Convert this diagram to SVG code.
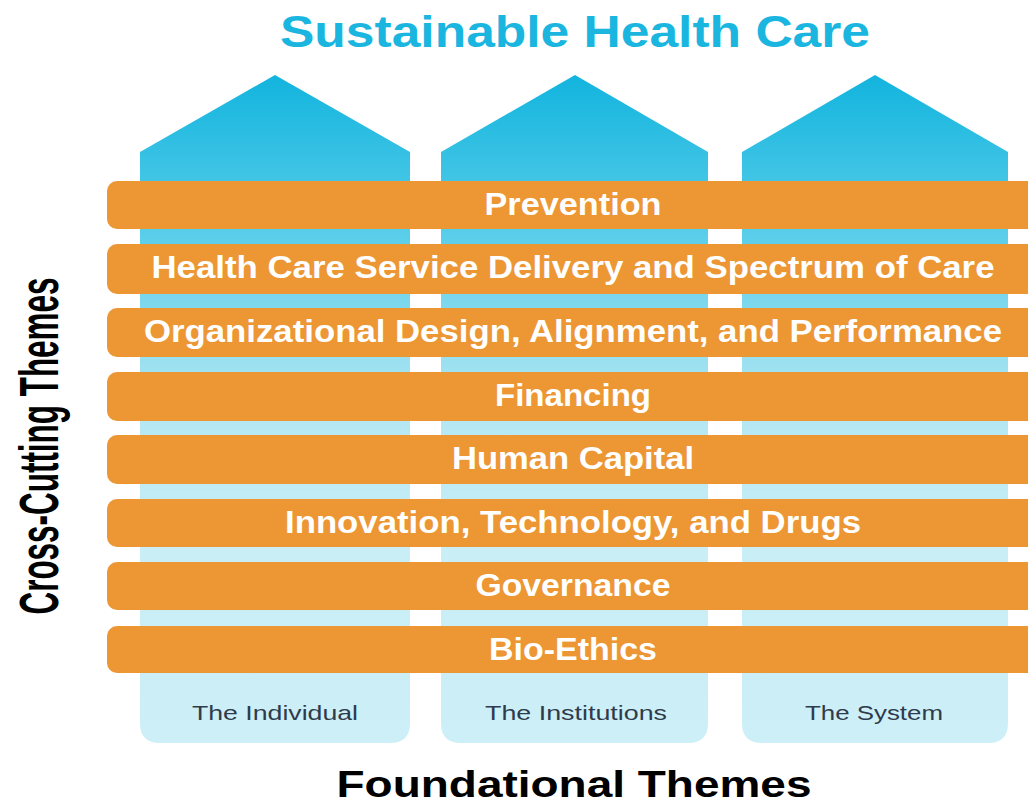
<svg xmlns="http://www.w3.org/2000/svg" width="1028" height="802" viewBox="0 0 1028 802">
<style>
.bar{fill:#ed9634}
.bt{font-family:"Liberation Sans",Arial,sans-serif;font-weight:bold;font-size:31px;fill:#ffffff;text-anchor:middle}
.pl{font-family:"Liberation Sans",Arial,sans-serif;font-size:21px;fill:#2f3b4c;text-anchor:middle}
.pillar{fill:url(#pg)}
</style>
<defs>
<linearGradient id="pg" gradientUnits="userSpaceOnUse" x1="0" y1="75" x2="0" y2="743">
<stop offset="0" stop-color="#12b4de"/>
<stop offset="0.25" stop-color="#5dcfea"/>
<stop offset="0.5" stop-color="#b3e7f3"/>
<stop offset="0.7" stop-color="#c9eef6"/>
<stop offset="1" stop-color="#cdeff7"/>
</linearGradient>
</defs>
<rect width="1028" height="802" fill="#ffffff"/>
<text x="575" y="47" font-family="'Liberation Sans',Arial,sans-serif" font-weight="bold" font-size="44" fill="#1ab6e0" text-anchor="middle" textLength="590" lengthAdjust="spacingAndGlyphs">Sustainable Health Care</text>
<g id="pillar-individual">
<path class="pillar" d="M140,152 L275,75 L410,152 L410,723 Q410,743 390,743 L160,743 Q140,743 140,723 Z"/>
<text class="pl" x="275" y="720" textLength="166" lengthAdjust="spacingAndGlyphs">The Individual</text>
</g>
<g id="pillar-institutions">
<path class="pillar" d="M441,152 L575,75 L708,152 L708,723 Q708,743 688,743 L461,743 Q441,743 441,723 Z"/>
<text class="pl" x="576" y="720" textLength="182" lengthAdjust="spacingAndGlyphs">The Institutions</text>
</g>
<g id="pillar-system">
<path class="pillar" d="M742,152 L875,75 L1008,152 L1008,723 Q1008,743 988,743 L762,743 Q742,743 742,723 Z"/>
<text class="pl" x="874" y="720" textLength="138" lengthAdjust="spacingAndGlyphs">The System</text>
</g>
<g id="bar-prevention">
<rect class="bar" x="107" y="181" width="940" height="48" rx="10"/>
<text class="bt" x="573" y="215" textLength="177" lengthAdjust="spacingAndGlyphs">Prevention</text>
</g>
<g id="bar-delivery">
<rect class="bar" x="107" y="244" width="940" height="50" rx="10"/>
<text class="bt" x="573" y="278" textLength="843" lengthAdjust="spacingAndGlyphs">Health Care Service Delivery and Spectrum of Care</text>
</g>
<g id="bar-organizational">
<rect class="bar" x="107" y="308" width="940" height="49" rx="10"/>
<text class="bt" x="573" y="342" textLength="858" lengthAdjust="spacingAndGlyphs">Organizational Design, Alignment, and Performance</text>
</g>
<g id="bar-financing">
<rect class="bar" x="107" y="372" width="940" height="49" rx="10"/>
<text class="bt" x="573" y="406" textLength="156" lengthAdjust="spacingAndGlyphs">Financing</text>
</g>
<g id="bar-human">
<rect class="bar" x="107" y="435" width="940" height="49" rx="10"/>
<text class="bt" x="573" y="469" textLength="242" lengthAdjust="spacingAndGlyphs">Human Capital</text>
</g>
<g id="bar-innovation">
<rect class="bar" x="107" y="499" width="940" height="48" rx="10"/>
<text class="bt" x="573" y="533" textLength="576" lengthAdjust="spacingAndGlyphs">Innovation, Technology, and Drugs</text>
</g>
<g id="bar-governance">
<rect class="bar" x="107" y="562" width="940" height="48" rx="10"/>
<text class="bt" x="573" y="596" textLength="195" lengthAdjust="spacingAndGlyphs">Governance</text>
</g>
<g id="bar-bioethics">
<rect class="bar" x="107" y="626" width="940" height="47" rx="10"/>
<text class="bt" x="573" y="660" textLength="168" lengthAdjust="spacingAndGlyphs">Bio-Ethics</text>
</g>
<text transform="translate(58,446) rotate(-90)" x="0" y="0" font-family="'Liberation Sans',Arial,sans-serif" font-weight="bold" font-size="56" fill="#000000" text-anchor="middle" textLength="337" lengthAdjust="spacingAndGlyphs">Cross-Cutting Themes</text>
<text x="574" y="797" font-family="'Liberation Sans',Arial,sans-serif" font-weight="bold" font-size="36" fill="#000000" text-anchor="middle" textLength="475" lengthAdjust="spacingAndGlyphs">Foundational Themes</text>
</svg>
